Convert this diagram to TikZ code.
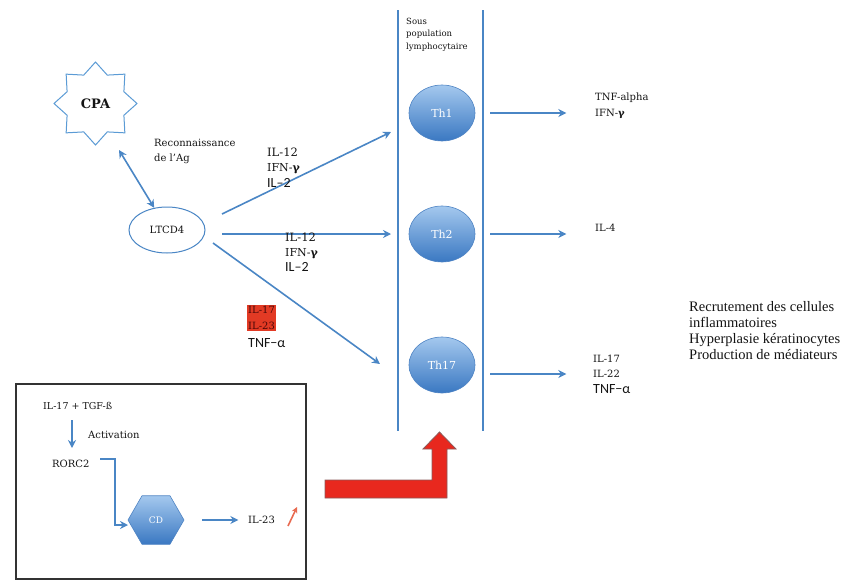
\documentclass[tikz,border=0pt]{standalone}
\usepackage{fontspec}
\setmainfont{DejaVu Serif}
\newfontfamily\timesf{Liberation Serif}
\newfontfamily\calib{Carlito}
\usetikzlibrary{shapes.geometric,arrows.meta,calc}
\definecolor{lblue}{HTML}{4A86C5}
\definecolor{starline}{HTML}{5B9BD5}
\definecolor{cellTop}{HTML}{A4C8EE}
\definecolor{cellBot}{HTML}{3A78C2}
\definecolor{cellLine}{HTML}{4F84C4}
\definecolor{txt}{HTML}{141414}
\definecolor{bigred}{HTML}{E8281E}
\definecolor{redline}{HTML}{8A5A5A}
\definecolor{boxred}{HTML}{E23A24}
\definecolor{darkred}{HTML}{4A0808}
\definecolor{salmon}{HTML}{E86A50}
\begin{document}
\begin{tikzpicture}[x=1pt,y=-1pt,
  arr/.style={draw=lblue, line width=1.6pt, -{Stealth[length=8pt,width=8pt]}},
  dblarr/.style={draw=lblue, line width=1.6pt, {Stealth[length=8pt,width=8pt]}-{Stealth[length=8pt,width=8pt]}},
  lbl/.style={anchor=base west, inner sep=0, text=txt, font=\fontsize{10}{12}\selectfont},
  cal/.style={anchor=base west, inner sep=0, text=txt, font=\calib\fontsize{14}{16}\selectfont},
  cell/.style={ellipse, minimum width=66pt, minimum height=56pt, inner sep=0,
    top color=cellTop, bottom color=cellBot, draw=cellLine, line width=0.6pt,
    text=white, font=\fontsize{11}{13}\selectfont},
  vline/.style={draw=lblue, line width=1.6pt}
]
\useasboundingbox (0,0) rectangle (844,581);

% CPA star
\node[star, star points=8, star point ratio=1.35, minimum size=83pt, inner sep=0,
  draw=starline, line width=1pt, fill=white, text=txt,
  font=\bfseries\fontsize{13}{16}\selectfont] (CPA) at (95.5,103.5) {CPA};

% LTCD4
\node[ellipse, minimum width=76pt, minimum height=46pt, inner sep=0, draw=lblue,
  line width=1pt, fill=white, text=txt, font=\fontsize{10}{12}\selectfont]
  (LTCD4) at (167,230) {LTCD4};

\node[lbl] (rec1) at (154,146) {Reconnaissance};
\node[lbl] (rec2) at (154,161.5) {de l'Ag};

\coordinate (cpaEnd) at (119,150);
\draw[dblarr] (cpaEnd) -- (LTCD4.120);

% population lines
\draw[vline] (398,10) coordinate (l1top) -- (398,431) coordinate (l1bot);
\draw[vline] (483,10) coordinate (l2top) -- (483,431) coordinate (l2bot);
\node[anchor=base west, inner sep=0, align=left, text=txt,
  font=\fontsize{8.5}{12.5}\selectfont] (sous) at (406,49)
  {Sous\\population\\lymphocytaire};

% cells
\node[cell] (Th1) at (442,113) {Th1};
\node[cell] (Th2) at (442,234) {Th2};
\node[cell] (Th17) at (442,365) {Th17};

% arrows from LTCD4
\coordinate (s1) at (222,214);
\coordinate (e1) at (391,132);
\coordinate (s2) at (222,234);
\coordinate (e2) at (391,234);
\coordinate (s3) at (213,243);
\coordinate (e3) at (380,364);
\draw[arr] (s1) -- (e1);
\draw[arr] (s2) -- (e2);
\draw[arr] (s3) -- (e3);

% cytokine labels
\node[lbl, font=\fontsize{11.5}{13}\selectfont] (a1) at (267,156) {IL-12};
\node[lbl, font=\fontsize{11}{13}\selectfont] (a2) at (267,171.5) {IFN-\textbf{γ}};
\node[cal] (a3) at (267,187) {IL–2};
\node[lbl, font=\fontsize{11.5}{13}\selectfont] (b1) at (285,241) {IL-12};
\node[lbl, font=\fontsize{11}{13}\selectfont] (b2) at (285,256) {IFN-\textbf{γ}};
\node[cal] (b3) at (285,271) {IL–2};

\node[anchor=north west, fill=boxred, inner sep=1pt, align=left, text=darkred,
  font=\fontsize{10}{16}\selectfont] (redbox) at (247,305) {IL-17\\IL-23};
\node[cal] (c3) at (248,347) {TNF−α};

% outputs
\node[lbl] (o1) at (595,100) {TNF-alpha};
\node[lbl] (o2) at (595,116.5) {IFN-\textbf{γ}};
\node[lbl] (o3) at (595,231) {IL-4};
\node[lbl] (o4) at (593,362) {IL-17};
\node[lbl] (o5) at (593,377) {IL-22};
\node[cal] (o6) at (593,393) {TNF−α};

\draw[arr] (Th1.east) ++(15,0) -- ++(76,0);
\draw[arr] (Th2.east) ++(15,0) -- ++(76,0);
\draw[arr] (Th17.east) ++(15,9) -- ++(76,0);

% effects
\node[anchor=base west, inner sep=0, align=left, text=txt,
  font=\timesf\fontsize{14.5}{16}\selectfont] (eff) at (689,359)
  {Recrutement des cellules\\inflammatoires\\Hyperplasie kératinocytes\\Production de médiateurs};

% bottom box
\draw[draw=black!80, line width=1.3pt] (16,384) rectangle (306,579);
\node[lbl, font=\fontsize{9.5}{12}\selectfont] (il17tgf) at (43,409) {IL-17 + TGF-ß};
\node[lbl] (activ) at (88,438) {Activation};
\node[lbl] (rorc) at (52,467) {RORC2};
\node[regular polygon, regular polygon sides=6, minimum size=56pt, inner sep=0,
  top color=cellTop, bottom color=cellBot, draw=cellLine, line width=0.6pt,
  text=white, font=\fontsize{9}{11}\selectfont] (CD) at (156,520) {CD};
\node[lbl] (il23) at (248,523) {IL-23};

\coordinate (d1) at (72,420);
\coordinate (d2) at (72,448);
\draw[arr] (d1) -- (d2);
\coordinate (r1) at (100,459);
\coordinate (r2) at (128,525);
\draw[arr] (r1) -- (115,459) -- (115,525) -- (r2);
\draw[arr] (CD.east) ++(18,0) -- ++(36,0);

\coordinate (up1) at (288,526);
\coordinate (up2) at (297,507);
\draw[draw=salmon, line width=1.6pt, -{Stealth[length=6pt,width=6pt]}] (up1) -- (up2);

% big red arrow
\fill[bigred, draw=redline, line width=0.8pt, line join=miter]
  (325,480) -- (432,480) -- (432,449) -- (423,449) -- (439.5,432) -- (456,449)
  -- (447,449) -- (447,498) -- (325,498) -- cycle;
\end{tikzpicture}
\end{document}
